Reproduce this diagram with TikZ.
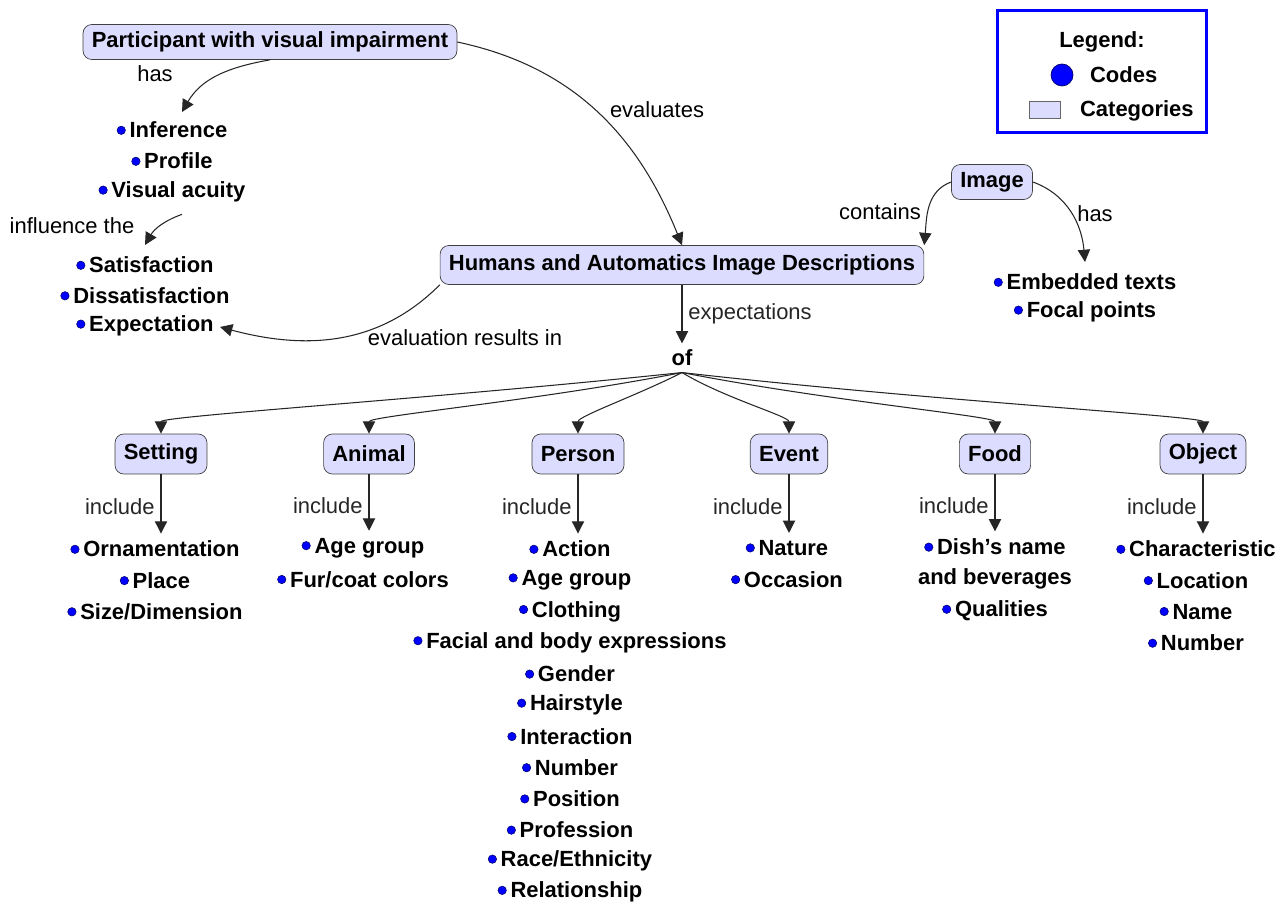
\documentclass[tikz,border=0pt]{standalone}
\usepackage{fontspec}
\setmainfont{Liberation Sans}
\usepackage{xcolor}
\usetikzlibrary{arrows.meta}

\definecolor{catfill}{RGB}{220,220,255}
\newcommand{\diagfont}{\fontsize{12.5pt}{15pt}\selectfont}
\newcommand{\codedot}{\tikz[baseline=-0.65ex]\filldraw[fill=blue,draw=blue!40!black,line width=0.3pt] (0,0) circle (2.4pt);\hspace{2.2pt}}
\tikzset{
  catbox/.style={draw=black!75, fill=catfill, rounded corners=5pt, font=\diagfont\bfseries, inner xsep=5pt, minimum height=0.7cm},
  code/.style={font=\diagfont\bfseries, inner sep=1pt},
  lbl/.style={font=\diagfont, inner sep=1pt},
  arr/.style={-{Triangle[length=7pt,width=7pt]}, line width=0.6pt, black!85}
}

\begin{document}
\begin{tikzpicture}[x=0.02cm, y=0.02cm, font=\diagfont]
  \useasboundingbox (0,0) rectangle (1288,-905);

  % main categories
  \node [catbox] (participant) at (270,-42) {Participant with visual impairment};
  \node [catbox, minimum height=0.78cm] (humans) at (682,-265) {Humans and Automatics Image Descriptions};
  \node [catbox] (image) at (992,-182) {Image};
  \node [code, inner sep=3.5pt] (of) at (682,-358) {of};

  % codes
  \foreach \t [count=\i] in {Inference, Profile, Visual acuity}
    \node [code] (pv\i) at (172,-130-31*\i+31) {\codedot\t};
  \foreach \t [count=\i] in {Satisfaction, Dissatisfaction, Expectation}
    \node [code] (ev\i) at (145,-265-30.5*\i+30.5) {\codedot\t};
  \foreach \t [count=\i] in {Embedded texts, Focal points}
    \node [code] (im\i) at (1085,-282-30*\i+30) {\codedot\t};

  \coordinate (hastip) at (182,-112);
  \coordinate (inftip) at (145,-245);
  \coordinate (exptip) at (220,-327);
  \coordinate (imtip) at (1085,-262);

  \draw [arr] (participant.south) to[out=190,in=60] (hastip);
  \node [lbl] (lhas) at (155,-74) {has};
  \draw [arr] (participant.east) to[out=-12,in=112] (humans.north);
  \node [lbl] (leval) at (657,-110) {evaluates};
  \draw [arr] ([shift={(10,-10)}]pv3.south) to[out=200,in=60] (inftip);
  \node [lbl] (linf) at (72,-226) {influence the};
  \draw [arr] (humans.south west) to[out=225,in=-15] (exptip);
  \node [lbl] (lres) at (465,-338) {evaluation results in};
  \draw [arr] (image.west) to[out=200,in=85] (humans.north east);
  \node [lbl] (lcont) at (880,-212) {contains};
  \draw [arr] (image.east) to[out=-20,in=95] (imtip);
  \node [lbl] (lhas2) at (1095,-214) {has};
  \draw [arr] (humans.south) -- (of.north) node [midway, right] {expectations};

  % kinds of content
  \foreach \n/\x/\t in {setting/161/Setting, animal/369/Animal, person/578/Person,
                        event/789/Event, food/995/Food, object/1203/Object}
    \node [catbox, minimum height=0.8cm] (\n) at (\x,-454) {\t};

  \foreach \n/\o/\d in {setting/186/5cm, animal/191/3cm, person/207/1cm,
                        event/-31/1cm, food/-11/3cm, object/-6.5/5cm}
    \draw [arr] (of.south) to[out=\o, in=90, out distance=\d, in distance=0.35cm] (\n.north);

  \foreach \t [count=\i] in {Ornamentation, Place, Size/Dimension}
    \node [code] (set\i) at (155,-549-31.3*\i+31.3) {\codedot\t};
  \foreach \t [count=\i] in {Age group, Fur/coat colors}
    \node [code] (ani\i) at (363,-548-31.3*\i+31.3) {\codedot\t};
  \foreach \t [count=\i] in {Action, Age group, Clothing, Facial and body expressions,
      Gender, Hairstyle, Interaction, Number, Position, Profession, Race/Ethnicity, Relationship}
    \node [code] (per\i) at (570,-549-31.2*\i+31.2) {\codedot\t};
  \foreach \t [count=\i] in {Nature, Occasion}
    \node [code] (evt\i) at (787,-548-31.3*\i+31.3) {\codedot\t};
  \node [code, align=center] (food1) at (995,-564) {\codedot Dish’s name\\[2pt]and beverages};
  \node [code] (food2) at (995,-611) {\codedot Qualities};
  \foreach \t [count=\i] in {Characteristic, Location, Name, Number}
    \node [code] (obj\i) at (1196,-549-31.3*\i+31.3) {\codedot\t};

  \draw [arr, shorten >=3pt] (setting.south) -- (setting.south |- set1.north) node [midway, left] {include};
  \draw [arr, shorten >=3pt] (animal.south) -- (animal.south |- ani1.north) node [midway, left] {include};
  \draw [arr, shorten >=3pt] (person.south) -- (person.south |- per1.north) node [midway, left] {include};
  \draw [arr, shorten >=3pt] (event.south) -- (event.south |- evt1.north) node [midway, left] {include};
  \draw [arr, shorten >=3pt] (food.south) -- (food.south |- food1.north) node [midway, left] {include};
  \draw [arr, shorten >=3pt] (object.south) -- (object.south |- obj1.north) node [midway, left] {include};

  % legend
  \node [draw=blue, line width=1.5pt, fill=white, minimum width=4.18cm, minimum height=2.44cm] (legend) at (1102,-71.5) {};
  \node [code] (legtitle) at (1102,-42) {Legend:};
  \node [draw=blue!40!black, fill=blue, circle, minimum size=0.44cm, inner sep=0pt] (legcode) at (1062,-75) {};
  \node [code, anchor=west] (legcodes) at (1088,-75) {Codes};
  \node [draw=black!60, fill=catfill, minimum width=0.62cm, minimum height=0.34cm, inner sep=0pt] (legcat) at (1045,-110) {};
  \node [code, anchor=west] (legcats) at (1078,-111) {Categories};
\end{tikzpicture}
\end{document}
